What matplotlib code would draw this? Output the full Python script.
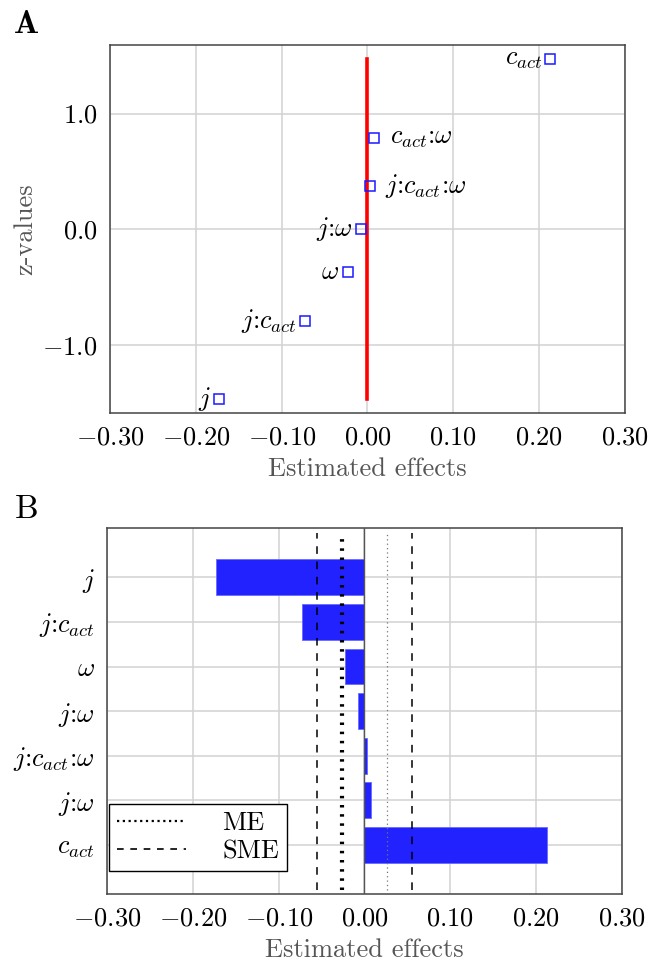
import matplotlib
matplotlib.use("Agg")
import matplotlib.pyplot as plt
from matplotlib.lines import Line2D

# ---------------- CONFIG ---------------- #
plt.rcParams["font.family"] = "serif"
plt.rcParams["font.serif"] = ["cmr10"]
plt.rcParams["mathtext.fontset"] = "cm"
plt.rcParams["axes.formatter.use_mathtext"] = True

FS = 19
GRID = "#d2d2d2"
SPINE = "#444444"
LABEL = "#555555"
BLUE = "#2222ff"
# ---------------------------------------- #

# panel A: estimated effects vs. normal scores
a_names = [r"$j$", r"$j$:$c_{act}$", r"$\omega$", r"$j$:$\omega$",
           r"$j$:$c_{act}$:$\omega$", r"$c_{act}$:$\omega$", r"$c_{act}$"]
effects = [-0.173, -0.073, -0.023, -0.008, 0.003, 0.008, 0.213]
z_values = [-1.47, -0.79, -0.37, 0.0, 0.37, 0.79, 1.47]

# panel B: bar chart, top to bottom (labels as printed)
b_names = [r"$j$", r"$j$:$c_{act}$", r"$\omega$", r"$j$:$\omega$",
           r"$j$:$c_{act}$:$\omega$", r"$j$:$\omega$", r"$c_{act}$"]
b_effects = [-0.173, -0.073, -0.023, -0.008, 0.003, 0.008, 0.213]
me = 0.026
sme = 0.055

x_ticks = [-0.30, -0.20, -0.10, 0.00, 0.10, 0.20, 0.30]
x_ticklabels = [r"$-0.30$", r"$-0.20$", r"$-0.10$", r"$0.00$", r"$0.10$", r"$0.20$", r"$0.30$"]
a_yticks = [-1.0, 0.0, 1.0]
a_yticklabels = [r"$-1.0$", r"$0.0$", r"$1.0$"]


def style_axes(ax):
    for s in ax.spines.values():
        s.set_color(SPINE)
        s.set_linewidth(1.1)
    ax.grid(True, color=GRID, linewidth=1.1)
    ax.set_axisbelow(True)
    ax.tick_params(length=0, labelsize=FS, pad=9)
    ax.set_xlim(-0.30, 0.30)
    ax.set_xticks(x_ticks)
    ax.set_xticklabels(x_ticklabels)
    ax.set_xlabel("Estimated effects", fontsize=FS, color=LABEL, labelpad=6)


fig = plt.figure(figsize=(6.51, 9.65), dpi=100)

# ---- A ----
axA = fig.add_axes([0.169, 0.572, 0.791, 0.381])
style_axes(axA)
axA.set_ylim(-1.59, 1.59)
axA.set_yticks(a_yticks)
axA.set_yticklabels(a_yticklabels)
axA.set_ylabel("z-values", fontsize=FS, color=LABEL, labelpad=4)
axA.plot([0, 0], [min(z_values), max(z_values)], color="#ff0000", linewidth=2.6, zorder=2)
axA.plot(effects, z_values, linestyle="none", marker="s", markersize=7.5,
         markerfacecolor="none", markeredgecolor="#1a1aff", markeredgewidth=1.1, zorder=3)
for name, x, y in zip(a_names, effects, z_values):
    right = 0 < x < 0.1
    axA.annotate(name, (x, y), xytext=(11 if right else -6, 0), textcoords="offset points",
                 ha="left" if right else "right", va="center", fontsize=FS)

fig.text(0.02, 0.975, r"$\mathbf{A}$", fontsize=24, ha="left", va="center")

# ---- B ----
axB = fig.add_axes([0.1644, 0.0736, 0.791, 0.379])
style_axes(axB)
pos = list(range(len(b_names)))[::-1]
axB.set_ylim(-1.1, len(b_names) - 1 + 1.1)
axB.set_yticks(pos)
axB.set_yticklabels(b_names)
axB.barh(pos, b_effects, height=0.8, color=BLUE, edgecolor="#6a6aff", linewidth=0.6, zorder=2)
axB.axvline(0, color="#555555", linewidth=1.0, zorder=3)
lo, hi = -1.0, len(b_names)
axB.vlines(-me, lo, hi, colors="black", linestyles=(0, (0.6, 1.6)), linewidth=3.0, zorder=4)
axB.vlines(me, lo, hi, colors="#777777", linestyles=(0, (1, 2.5)), linewidth=0.9, zorder=4)
axB.vlines([-sme, sme], lo, hi, colors="black", linestyles=(0, (5, 5)), linewidth=1.1, zorder=4)

handles = [Line2D([], [], color="black", linestyle=(0, (1, 1.6)), linewidth=1.6),
           Line2D([], [], color="black", linestyle=(0, (4, 4)), linewidth=1.2)]
leg = axB.legend(handles, ["ME", "SME"], loc="lower left", bbox_to_anchor=(0.004, 0.063),
                 borderaxespad=0, fontsize=FS, fancybox=False, framealpha=1,
                 edgecolor="black", handlelength=2.6, handletextpad=1.4,
                 borderpad=0.3, labelspacing=0.15)
leg.get_frame().set_linewidth(1.0)

fig.text(0.022, 0.472, "B", fontsize=24, ha="left", va="center")

fig.savefig("out.png", dpi=100)
